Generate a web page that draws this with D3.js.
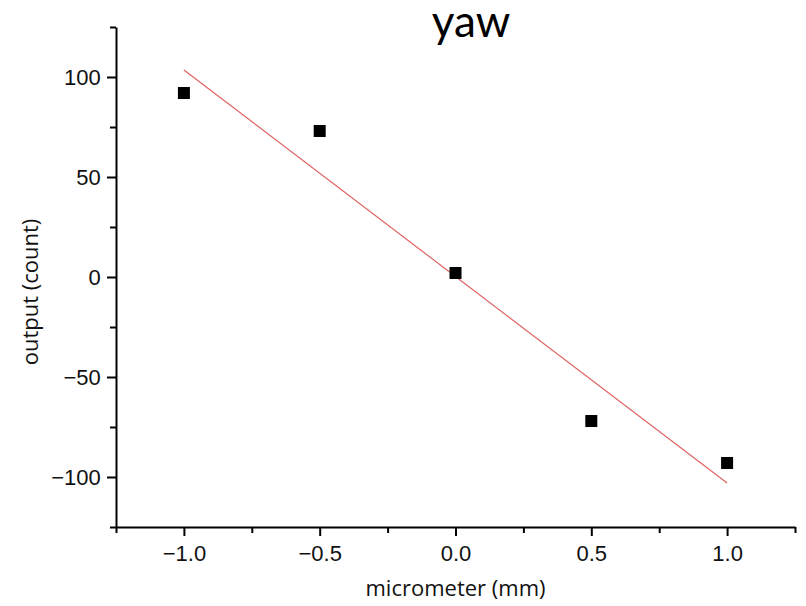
<!DOCTYPE html>
<html>
<head>
<meta charset="utf-8">
<script src="https://cdn.jsdelivr.net/npm/d3@7"></script>
<style>
  body { margin: 0; background: #fff; }
  .axis path, .axis line { stroke: #000; stroke-width: 2; }
  .axis text { font-family: "Liberation Sans Narrow", "Liberation Sans", Arial, sans-serif; font-size: 22px; fill: #111; }
  .lbl { font-family: "Open Sans", "Liberation Sans", Arial, sans-serif; font-size: 22px; fill: #111; }
</style>
</head>
<body>
<div id="plot"></div>
<script>
// data
var micrometer = [-1.0, -0.5, 0.0, 0.5, 1.0];
var output = [92, 73, 2, -72, -93];
// red fit line endpoints
var fitX = [-1.0, 1.0];
var fitY = [103.5, -103];
var xTicks = [-1.0, -0.5, 0.0, 0.5, 1.0];
var xMinor = [-1.25, -0.75, -0.25, 0.25, 0.75, 1.25];
var yTicks = [-100, -50, 0, 50, 100];
var yMinor = [-125, -75, -25, 25, 75, 125];

var W = 806, H = 606;
var margin = {top: 27, right: 11, bottom: 79, left: 116},
    width = W - margin.left - margin.right,
    height = H - margin.top - margin.bottom;

var root = d3.select("#plot").append("svg")
    .attr("width", W)
    .attr("height", H);
var svg = root.append("g")
    .attr("transform", "translate(" + margin.left + "," + margin.top + ")");

var xs = d3.scaleLinear().domain([-1.25, 1.25]).range([0, width]);
var ys = d3.scaleLinear().domain([-125, 125]).range([height, 0]);

// minor ticks
svg.append("g")
    .attr("class", "axis")
    .attr("transform", "translate(0," + height + ")")
    .call(d3.axisBottom(xs).tickValues(xMinor).tickSize(6).tickFormat(""))
    .select(".domain").remove();
svg.append("g")
    .attr("class", "axis")
    .call(d3.axisLeft(ys).tickValues(yMinor).tickSize(6).tickFormat(""))
    .select(".domain").remove();

// major ticks + axis lines
svg.append("g")
    .attr("class", "axis")
    .attr("transform", "translate(0," + height + ")")
    .call(d3.axisBottom(xs).tickValues(xTicks).tickSize(9).tickSizeOuter(0)
        .tickFormat(d => d3.format(".1f")(d).replace("-", "\u2212")))
    .selectAll("text").attr("dy", "1.0em");
svg.append("g")
    .attr("class", "axis")
    .call(d3.axisLeft(ys).tickValues(yTicks).tickSize(9).tickSizeOuter(0)
        .tickFormat(d => String(d).replace("-", "\u2212")))
    .selectAll("text").attr("dx", "-0.15em");

// fit line
var line = d3.line().x(d => xs(d[0])).y(d => ys(d[1]));
svg.append("path")
    .datum(d3.zip(fitX, fitY))
    .attr("d", line)
    .attr("fill", "none")
    .attr("stroke", "#e06262")
    .attr("stroke-width", 1.2);

// points
var s = 12;
svg.append("g").selectAll("rect")
    .data(d3.zip(micrometer, output))
    .enter().append("rect")
    .attr("x", d => xs(d[0]) - s / 2)
    .attr("y", d => ys(d[1]) - s / 2)
    .attr("width", s)
    .attr("height", s)
    .attr("fill", "#000");

// labels
root.append("text")
    .attr("x", 471).attr("y", 37)
    .attr("text-anchor", "middle")
    .style("font-family", "Lato, 'Open Sans', sans-serif")
    .style("font-size", "44px")
    .attr("fill", "#000")
    .text("yaw");
root.append("text")
    .attr("class", "lbl")
    .attr("x", margin.left + xs(0)).attr("y", 596)
    .attr("text-anchor", "middle")
    .text("micrometer (mm)");
root.append("text")
    .attr("class", "lbl")
    .attr("transform", "translate(38," + (margin.top + ys(0) + 15) + ") rotate(-90)")
    .attr("text-anchor", "middle")
    .text("output (count)");
</script>
</body>
</html>
